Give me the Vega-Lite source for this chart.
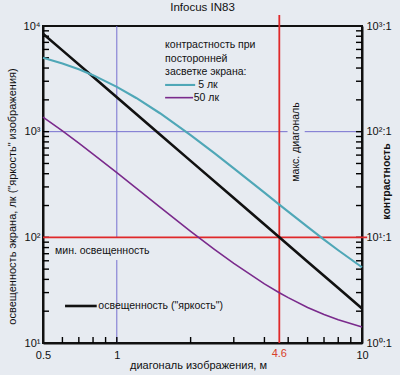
{
  "$schema": "https://vega.github.io/schema/vega-lite/v6.json",
  "width": 319,
  "height": 317,
  "autosize": {"type": "none"},
  "padding": {"left": 43, "top": 26, "right": 38, "bottom": 32},
  "background": "#e7ebf1",
  "title": {"text": "Infocus IN83", "fontSize": 11.5, "fontWeight": "normal", "font": "Liberation Sans", "offset": 1, "color": "#111"},
  "config": {
    "view": {"stroke": "#111", "strokeWidth": 2},
    "font": "Liberation Sans",
    "axis": {
      "domainColor": "#111", "domainWidth": 2, "ticks": false,
      "labelFont": "Liberation Sans", "labelFontSize": 11, "labelColor": "#111", "labelOverlap": false, "labelFlush": false,
      "titleFont": "Liberation Sans", "titleFontSize": 11, "titleFontWeight": "normal", "titleColor": "#111",
      "grid": false
    }
  },
  "datasets": {
    "curves": [
      {"d": 0.5, "v": 8464, "s": "освещенность"},
      {"d": 0.6, "v": 5878, "s": "освещенность"},
      {"d": 0.8, "v": 3306, "s": "освещенность"},
      {"d": 1, "v": 2116, "s": "освещенность"},
      {"d": 1.5, "v": 940, "s": "освещенность"},
      {"d": 2, "v": 529, "s": "освещенность"},
      {"d": 3, "v": 235.1, "s": "освещенность"},
      {"d": 4.6, "v": 100, "s": "освещенность"},
      {"d": 6, "v": 58.8, "s": "освещенность"},
      {"d": 8, "v": 33.1, "s": "освещенность"},
      {"d": 10, "v": 21.2, "s": "освещенность"},
      {"d": 0.5, "v": 5000, "s": "5 лк"},
      {"d": 0.6, "v": 4427, "s": "5 лк"},
      {"d": 0.7, "v": 3898, "s": "5 лк"},
      {"d": 0.8, "v": 3426, "s": "5 лк"},
      {"d": 1, "v": 2657, "s": "5 лк"},
      {"d": 1.2, "v": 2084, "s": "5 лк"},
      {"d": 1.5, "v": 1494, "s": "5 лк"},
      {"d": 2, "v": 929, "s": "5 лк"},
      {"d": 2.5, "v": 627, "s": "5 лк"},
      {"d": 3, "v": 450, "s": "5 лк"},
      {"d": 4, "v": 265, "s": "5 лк"},
      {"d": 4.6, "v": 204, "s": "5 лк"},
      {"d": 5, "v": 175, "s": "5 лк"},
      {"d": 6, "v": 125.5, "s": "5 лк"},
      {"d": 7, "v": 95.2, "s": "5 лк"},
      {"d": 8, "v": 75.5, "s": "5 лк"},
      {"d": 10, "v": 52.1, "s": "5 лк"},
      {"d": 0.5, "v": 1375, "s": "50 лк"},
      {"d": 0.6, "v": 1017, "s": "50 лк"},
      {"d": 0.7, "v": 779, "s": "50 лк"},
      {"d": 0.8, "v": 614, "s": "50 лк"},
      {"d": 1, "v": 409, "s": "50 лк"},
      {"d": 1.2, "v": 292, "s": "50 лк"},
      {"d": 1.5, "v": 193, "s": "50 лк"},
      {"d": 2, "v": 114, "s": "50 лк"},
      {"d": 2.5, "v": 77, "s": "50 лк"},
      {"d": 3, "v": 56.6, "s": "50 лк"},
      {"d": 4, "v": 36.3, "s": "50 лк"},
      {"d": 4.6, "v": 29.9, "s": "50 лк"},
      {"d": 5, "v": 26.9, "s": "50 лк"},
      {"d": 6, "v": 21.7, "s": "50 лк"},
      {"d": 7, "v": 18.6, "s": "50 лк"},
      {"d": 8, "v": 16.6, "s": "50 лк"},
      {"d": 10, "v": 14.2, "s": "50 лк"}
    ],
    "legendLines": [
      {"d": 1.574, "d2": 2.087, "v": 2767, "s": "5 лк"},
      {"d": 1.574, "d2": 2.047, "v": 2098, "s": "50 лк"},
      {"d": 0.615, "d2": 0.828, "v": 22.4, "s": "освещенность"}
    ],
    "notes": [
      {"d": 1.574, "v": 6607, "t": "контрастность при"},
      {"d": 1.574, "v": 4925, "t": "посторонней"},
      {"d": 1.574, "v": 3631, "t": "засветке экрана:"},
      {"d": 2.147, "v": 2767, "t": "5 лк"},
      {"d": 2.06, "v": 2098, "t": "50 лк"},
      {"d": 0.56, "v": 73.6, "t": "мин. освещенность"},
      {"d": 0.841, "v": 22.4, "t": "освещенность (\"яркость\")"}
    ],
    "ticksY": [
      {"v": 20}, {"v": 30}, {"v": 40}, {"v": 50}, {"v": 60}, {"v": 70}, {"v": 80}, {"v": 90}, {"v": 100},
      {"v": 200}, {"v": 300}, {"v": 400}, {"v": 500}, {"v": 600}, {"v": 700}, {"v": 800}, {"v": 900}, {"v": 1000},
      {"v": 2000}, {"v": 3000}, {"v": 4000}, {"v": 5000}, {"v": 6000}, {"v": 7000}, {"v": 8000}, {"v": 9000}
    ],
    "ticksX": [
      {"d": 0.6}, {"d": 0.7}, {"d": 0.8}, {"d": 0.9}, {"d": 1}, {"d": 2}, {"d": 3}, {"d": 4}, {"d": 5}, {"d": 6}, {"d": 7}, {"d": 8}, {"d": 9}
    ],
    "gridV": [
      {"d": 1, "v": 10, "v2": 61},
      {"d": 1, "v": 100, "v2": 10000}
    ],
    "gridH": [
      {"v": 1000, "d": 0.5, "d2": 4.97},
      {"v": 1000, "d": 5.84, "d2": 10}
    ],
    "redV": [{"d": 4.6, "v": 10, "v2": 12700}],
    "redH": [{"v": 100, "d": 0.5, "d2": 10.5}],
    "vnote": [{"d": 5.39, "v": 799, "t": "макс. диагональ"}],
    "rnote": [{"d": 4.6, "v": 10, "t": "4.6"}]
  },
  "layer": [
    {
      "data": {"name": "gridV"},
      "mark": {"type": "rule", "color": "#7770d0", "strokeWidth": 1},
      "encoding": {
        "x": {"field": "d", "type": "quantitative", "scale": {"type": "log", "domain": [0.5, 10]}, "axis": null},
        "y": {"field": "v", "type": "quantitative", "scale": {"type": "log", "domain": [10, 10000]}, "axis": null},
        "y2": {"field": "v2"}
      }
    },
    {
      "data": {"name": "gridH"},
      "mark": {"type": "rule", "color": "#7770d0", "strokeWidth": 1},
      "encoding": {
        "y": {"field": "v", "type": "quantitative", "scale": {"type": "log", "domain": [10, 10000]}, "axis": null},
        "x": {"field": "d", "type": "quantitative", "scale": {"type": "log", "domain": [0.5, 10]}, "axis": null},
        "x2": {"field": "d2"}
      }
    },
    {
      "data": {"name": "ticksY"},
      "mark": {"type": "rule", "color": "#000", "strokeWidth": 1.4},
      "encoding": {
        "y": {"field": "v", "type": "quantitative", "scale": {"type": "log", "domain": [10, 10000]}, "axis": null},
        "x": {"datum": 0.5, "type": "quantitative", "scale": {"type": "log", "domain": [0.5, 10]}, "axis": null},
        "x2": {"datum": 0.529}
      }
    },
    {
      "data": {"name": "ticksY"},
      "mark": {"type": "rule", "color": "#000", "strokeWidth": 1.4},
      "encoding": {
        "y": {"field": "v", "type": "quantitative", "scale": {"type": "log", "domain": [10, 10000]}, "axis": null},
        "x": {"datum": 9.452, "type": "quantitative", "scale": {"type": "log", "domain": [0.5, 10]}, "axis": null},
        "x2": {"datum": 10}
      }
    },
    {
      "data": {"name": "ticksX"},
      "mark": {"type": "rule", "color": "#000", "strokeWidth": 1.4},
      "encoding": {
        "x": {"field": "d", "type": "quantitative", "scale": {"type": "log", "domain": [0.5, 10]}, "axis": null},
        "y": {"datum": 10, "type": "quantitative", "scale": {"type": "log", "domain": [10, 10000]}, "axis": null},
        "y2": {"datum": 11.4}
      }
    },
    {
      "data": {"name": "redV"},
      "mark": {"type": "rule", "color": "#e0282a", "strokeWidth": 1.8},
      "encoding": {
        "x": {"field": "d", "type": "quantitative", "scale": {"type": "log", "domain": [0.5, 10]}, "axis": null},
        "y": {"field": "v", "type": "quantitative", "scale": {"type": "log", "domain": [10, 10000]}, "axis": null},
        "y2": {"field": "v2"}
      }
    },
    {
      "data": {"name": "redH"},
      "mark": {"type": "rule", "color": "#e0282a", "strokeWidth": 1.8},
      "encoding": {
        "y": {"field": "v", "type": "quantitative", "scale": {"type": "log", "domain": [10, 10000]},
          "axis": {"orient": "right", "title": "контрастность", "values": [10, 100, 1000, 10000],
            "labelExpr": "datum.value == 10 ? '10⁰:1' : datum.value == 100 ? '10¹:1' : datum.value == 1000 ? '10²:1' : '10³:1'",
            "labelPadding": 4, "labelAlign": "left", "titleAngle": 270, "titleX": 24, "titleY": 155, "titleAlign": "center", "titleBaseline": "middle", "titleFontWeight": "bold", "titleFontSize": 10.5}},
        "x": {"field": "d", "type": "quantitative", "scale": {"type": "log", "domain": [0.5, 10]}, "axis": null},
        "x2": {"field": "d2"}
      }
    },
    {
      "data": {"name": "curves"},
      "mark": {"type": "line"},
      "encoding": {
        "x": {"field": "d", "type": "quantitative", "scale": {"type": "log", "domain": [0.5, 10]},
          "axis": {"orient": "bottom", "title": "диагональ изображения, м", "values": [0.5, 1, 10],
            "labelExpr": "datum.value == 0.5 ? '0.5' : datum.value == 1 ? '1' : '10'",
            "labelPadding": 6, "titleX": 155, "titleY": 22, "titleAlign": "center", "titleBaseline": "middle"}},
        "y": {"field": "v", "type": "quantitative", "scale": {"type": "log", "domain": [10, 10000]},
          "axis": {"orient": "left", "title": "освещенность экрана, лк  (\"яркость\" изображения)", "values": [10, 100, 1000, 10000],
            "labelExpr": "datum.value == 10 ? '10¹' : datum.value == 100 ? '10²' : datum.value == 1000 ? '10³' : '10⁴'",
            "labelPadding": 3, "titleAngle": 270, "titleX": -31, "titleY": 170, "titleAlign": "center", "titleBaseline": "middle"}},
        "color": {"field": "s", "type": "nominal", "scale": {"domain": ["освещенность", "5 лк", "50 лк"], "range": ["#111111", "#4fa7b7", "#7a2a8c"]}, "legend": null},
        "strokeWidth": {"field": "s", "type": "nominal", "scale": {"domain": ["освещенность", "5 лк", "50 лк"], "range": [2.6, 1.6, 1.6]}, "legend": null}
      }
    },
    {
      "data": {"name": "legendLines"},
      "mark": {"type": "rule"},
      "encoding": {
        "x": {"field": "d", "type": "quantitative", "scale": {"type": "log", "domain": [0.5, 10]}, "axis": null},
        "x2": {"field": "d2"},
        "y": {"field": "v", "type": "quantitative", "scale": {"type": "log", "domain": [10, 10000]}, "axis": null},
        "color": {"field": "s", "type": "nominal", "scale": {"domain": ["освещенность", "5 лк", "50 лк"], "range": ["#111111", "#4fa7b7", "#7a2a8c"]}, "legend": null},
        "strokeWidth": {"field": "s", "type": "nominal", "scale": {"domain": ["освещенность", "5 лк", "50 лк"], "range": [2.6, 1.6, 1.6]}, "legend": null}
      }
    },
    {
      "data": {"name": "notes"},
      "mark": {"type": "text", "align": "left", "baseline": "middle", "fontSize": 10.5, "color": "#111", "font": "Liberation Sans"},
      "encoding": {
        "x": {"field": "d", "type": "quantitative", "scale": {"type": "log", "domain": [0.5, 10]}, "axis": null},
        "y": {"field": "v", "type": "quantitative", "scale": {"type": "log", "domain": [10, 10000]}, "axis": null},
        "text": {"field": "t"}
      }
    },
    {
      "data": {"name": "vnote"},
      "mark": {"type": "text", "align": "center", "baseline": "middle", "angle": 270, "fontSize": 10.5, "color": "#111", "font": "Liberation Sans"},
      "encoding": {
        "x": {"field": "d", "type": "quantitative", "scale": {"type": "log", "domain": [0.5, 10]}, "axis": null},
        "y": {"field": "v", "type": "quantitative", "scale": {"type": "log", "domain": [10, 10000]}, "axis": null},
        "text": {"field": "t"}
      }
    },
    {
      "data": {"name": "rnote"},
      "mark": {"type": "text", "align": "center", "baseline": "middle", "dy": 11, "fontSize": 11, "color": "#d8402a", "font": "Liberation Sans"},
      "encoding": {
        "x": {"field": "d", "type": "quantitative", "scale": {"type": "log", "domain": [0.5, 10]}, "axis": null},
        "y": {"field": "v", "type": "quantitative", "scale": {"type": "log", "domain": [10, 10000]}, "axis": null},
        "text": {"field": "t"}
      }
    }
  ],
  "resolve": {"axis": {"x": "independent", "y": "independent"}}
}
